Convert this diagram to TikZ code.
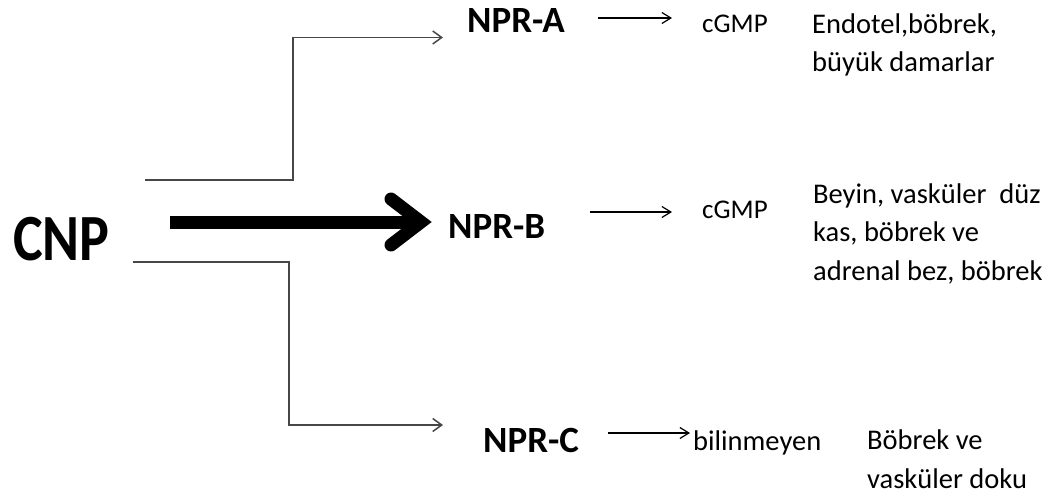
\documentclass[tikz,border=0pt]{standalone}
\usepackage{fontspec}
\setmainfont{Carlito}
\usetikzlibrary{arrows.meta}
\begin{document}
\begin{tikzpicture}[x=1pt,y=-1pt,
  lbl/.style={inner sep=0pt, anchor=base west, font=\fontsize{28.5}{38.5}\selectfont, align=left},
  npr/.style={inner sep=0pt, anchor=base west, font=\fontsize{37}{40}\selectfont\bfseries},
  branch/.style={draw=black!72, line width=1.6pt, -{Straight Barb[length=9pt,width=13pt,line width=1.5pt]}},
  smallarr/.style={draw=black, line width=1.2pt, -{Straight Barb[length=9pt,width=11pt,line width=1.2pt]}},
  thick arrow/.style={draw=black, line width=13pt}
]
\useasboundingbox (0,0) rectangle (1063,500);

% nodes (base anchor of a multi-line node = baseline of its last line)
\node[inner sep=0pt, anchor=base west, font=\fontsize{66}{70}\selectfont\bfseries] (cnp) at (13,260) {\scalebox{0.85}[1]{CNP}};
\node[npr] (nprA) at (467,33) {NPR-A};
\node[npr] (nprB) at (448,238) {NPR-B};
\node[npr] (nprC) at (483,452) {NPR-C};

\node[lbl, font=\fontsize{27}{38}\selectfont] (cgA) at (702,33) {cGMP};
\node[lbl, font=\fontsize{27}{38}\selectfont] (cgB) at (702,218) {cGMP};
\node[lbl] (unk) at (693,450) {bilinmeyen};

\node[lbl] (tA) at (812,72) {Endotel,böbrek,\\büyük damarlar};
\node[lbl] (tB) at (813,280) {Beyin, vasküler\ \ düz\\kas, böbrek ve\\adrenal bez, böbrek};
\node[lbl] (tC) at (867,488) {Böbrek ve\\vasküler doku};

% upper branch
\coordinate (uS) at (145,180);
\coordinate (uK) at (293,180);
\coordinate (uT) at (443,37.5);
\draw[branch] (uS) -- (uK) |- (uT);

% lower branch
\coordinate (lS) at (133,262);
\coordinate (lK) at (289,262);
\coordinate (lT) at (443,425);
\draw[branch] (lS) -- (lK) |- (lT);

% thick arrow
\coordinate (bS) at (170,222);
\coordinate (bT) at (421,222);
\coordinate (bU) at (391,199);
\coordinate (bD) at (391,245);
\draw[thick arrow] (bS) -- (bT);
\draw[thick arrow, line cap=round, line join=miter] (bU) -- (bT) -- (bD);

% small arrows
\coordinate (aS) at (598,18);  \coordinate (aT) at (672,18);
\coordinate (bbS) at (590,212); \coordinate (bbT) at (672,212);
\coordinate (cS) at (608,433); \coordinate (cT) at (690,433);
\draw[smallarr] (aS) -- (aT);
\draw[smallarr] (bbS) -- (bbT);
\draw[smallarr] (cS) -- (cT);
\end{tikzpicture}
\end{document}
